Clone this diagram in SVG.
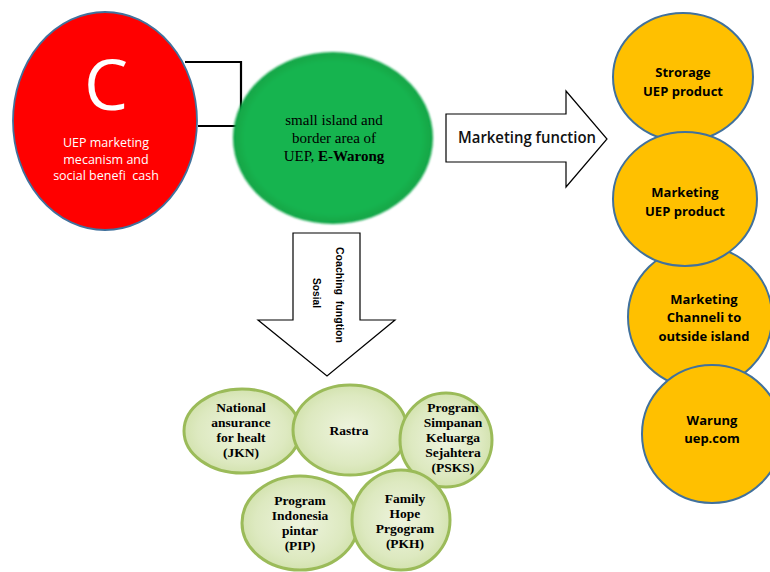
<svg xmlns="http://www.w3.org/2000/svg" width="770" height="572" viewBox="0 0 770 572">
<style>
.orange{fill:#ffc000;stroke:#41719c;stroke-width:2}
.lg{fill:url(#lgGrad);stroke:#9bbb59;stroke-width:3}
.ot{font-family:"Open Sans","Liberation Sans",sans-serif;font-weight:bold;font-size:13px;fill:#000;text-anchor:middle}
.gt{font-family:"Liberation Serif",serif;font-weight:bold;font-size:13.5px;fill:#000;text-anchor:middle}
.wt{font-family:"Open Sans","Liberation Sans",sans-serif;font-size:12.5px;fill:#fff;text-anchor:middle}
.conn{fill:none;stroke:#000;stroke-width:2.2}
.arrow{fill:#fff;stroke:#000;stroke-width:1.2}
</style>
<defs>
<radialGradient id="lgGrad" cx="50%" cy="50%" r="55%">
<stop offset="0" stop-color="#eef4de"/>
<stop offset="0.7" stop-color="#dde9c0"/>
<stop offset="1" stop-color="#cfe0a8"/>
</radialGradient>
<radialGradient id="gGrad" cx="50%" cy="50%" r="50%">
<stop offset="0.88" stop-color="#17b450"/>
<stop offset="1" stop-color="#10a444"/>
</radialGradient>
<filter id="soft" x="-10%" y="-10%" width="120%" height="120%">
<feGaussianBlur stdDeviation="1.2"/>
</filter>
</defs>

<g id="connectors">
<polyline class="conn" points="185,62 241,62 241,126 198,126"/>
<line class="conn" x1="241" y1="126" x2="238" y2="126"/>
</g>

<g id="node-c">
<ellipse cx="105" cy="121" rx="92" ry="109" fill="#ff0000" stroke="#41719c" stroke-width="1.8"/>
<text x="106" y="110" font-family="'Open Sans','Liberation Sans',sans-serif" font-size="70" fill="#fff" text-anchor="middle">C</text>
<text class="wt" x="106" y="147">UEP marketing</text>
<text class="wt" x="106" y="164">mecanism and</text>
<text class="wt" x="106" y="180" xml:space="preserve">social benefi  cash</text>
</g>

<g id="node-ewarong">
<ellipse cx="333" cy="138" rx="100" ry="86" fill="url(#gGrad)" filter="url(#soft)"/>
<text x="334" y="125" font-family="'Liberation Serif',serif" font-size="15" fill="#000" text-anchor="middle">small island and</text>
<text x="334" y="143" font-family="'Liberation Serif',serif" font-size="15" fill="#000" text-anchor="middle">border area of</text>
<text x="334" y="161" font-family="'Liberation Serif',serif" font-size="15" fill="#000" text-anchor="middle">UEP, <tspan font-weight="bold">E-Warong</tspan></text>
</g>

<g id="arrow-marketing">
<path class="arrow" d="M446,114 L566,114 L566,91 L607,139 L566,187 L566,162 L446,162 Z"/>
<text x="458" y="143" font-family="'Open Sans','Liberation Sans',sans-serif" font-weight="600" font-size="16" fill="#111" textLength="138" lengthAdjust="spacingAndGlyphs">Marketing function</text>
</g>

<g id="arrow-coaching">
<path class="arrow" d="M293,233 L360,233 L360,320 L395,320 L327,376 L258,320 L293,320 Z"/>
<text transform="translate(336,247) rotate(90)" font-family="'Liberation Sans',sans-serif" font-weight="bold" font-size="11.5" fill="#000" textLength="96" lengthAdjust="spacingAndGlyphs" xml:space="preserve">Coaching  fungtion</text>
<text transform="translate(313,278) rotate(90)" font-family="'Liberation Sans',sans-serif" font-weight="bold" font-size="11.5" fill="#000" textLength="30" lengthAdjust="spacingAndGlyphs">Sosial</text>
</g>

<g id="node-storage">
<ellipse class="orange" cx="683" cy="77" rx="70" ry="64"/>
<text class="ot" x="683" y="77">Strorage</text>
<text class="ot" x="683" y="96">UEP product</text>
</g>

<g id="node-channel">
<ellipse class="orange" cx="700" cy="317" rx="72" ry="71"/>
<text class="ot" x="704" y="304">Marketing</text>
<text class="ot" x="704" y="322">Channeli to</text>
<text class="ot" x="704" y="341">outside island</text>
</g>

<g id="node-marketing">
<ellipse class="orange" cx="685" cy="199" rx="72" ry="67"/>
<text class="ot" x="685" y="197">Marketing</text>
<text class="ot" x="685" y="216">UEP product</text>
</g>

<g id="node-warung">
<ellipse class="orange" cx="712" cy="434" rx="70" ry="69"/>
<text class="ot" x="712" y="425">Warung</text>
<text class="ot" x="712" y="443">uep.com</text>
</g>

<g id="node-jkn">
<ellipse class="lg" cx="242" cy="431" rx="58" ry="42"/>
<text class="gt" x="241" y="412">National</text>
<text class="gt" x="241" y="427">ansurance</text>
<text class="gt" x="241" y="442">for healt</text>
<text class="gt" x="241" y="457">(JKN)</text>
</g>

<g id="node-rastra">
<ellipse class="lg" cx="350" cy="430" rx="57" ry="45"/>
<text class="gt" x="349" y="435">Rastra</text>
</g>

<g id="node-psks">
<ellipse class="lg" cx="446" cy="440" rx="46" ry="47"/>
<text class="gt" x="453" y="412">Program</text>
<text class="gt" x="453" y="427">Simpanan</text>
<text class="gt" x="453" y="442">Keluarga</text>
<text class="gt" x="453" y="457">Sejahtera</text>
<text class="gt" x="453" y="472">(PSKS)</text>
</g>

<g id="node-pip">
<ellipse class="lg" cx="300" cy="523" rx="58" ry="47"/>
<text class="gt" x="300" y="505">Program</text>
<text class="gt" x="300" y="520">Indonesia</text>
<text class="gt" x="300" y="535">pintar</text>
<text class="gt" x="300" y="550">(PIP)</text>
</g>

<g id="node-pkh">
<ellipse class="lg" cx="401" cy="520" rx="49" ry="50"/>
<text class="gt" x="405" y="503">Family</text>
<text class="gt" x="405" y="518">Hope</text>
<text class="gt" x="405" y="533">Prgogram</text>
<text class="gt" x="405" y="548">(PKH)</text>
</g>
</svg>
